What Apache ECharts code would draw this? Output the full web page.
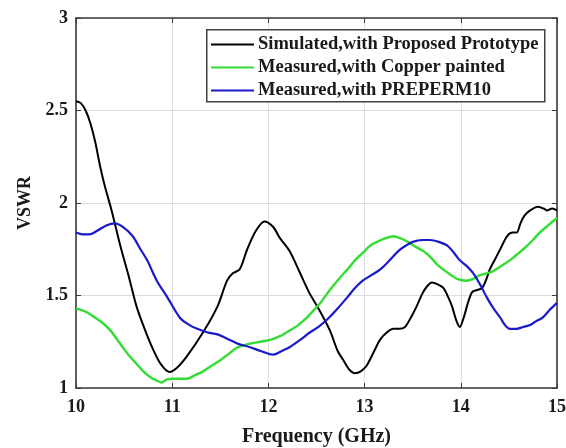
<!DOCTYPE html>
<html>
<head>
<meta charset="utf-8">
<script src="https://cdn.jsdelivr.net/npm/echarts@6/dist/echarts.min.js"></script>
<style>
  html, body { margin: 0; padding: 0; background: #fff; }
  #chart { width: 566px; height: 448px; }
</style>
</head>
<body>
<div id="chart"></div>
<script>
// VSWR vs frequency for the three antenna variants
const seriesNames = [
  'Simulated,with Proposed Prototype',
  'Measured,with Copper painted',
  'Measured,with PREPERM10'
];

const simFreq = [10.00, 10.05, 10.10, 10.15, 10.20, 10.25, 10.30, 10.37, 10.46, 10.55, 10.63, 10.72, 10.80, 10.88, 10.97, 11.05, 11.15, 11.32, 11.47, 11.57, 11.63, 11.70, 11.78, 11.87, 11.96, 12.05, 12.12, 12.22, 12.33, 12.43, 12.52, 12.64, 12.72, 12.78, 12.84, 12.90, 12.96, 13.02, 13.10, 13.16, 13.23, 13.30, 13.36, 13.42, 13.48, 13.54, 13.60, 13.65, 13.70, 13.76, 13.82, 13.87, 13.91, 13.95, 13.99, 14.03, 14.08, 14.12, 14.17, 14.22, 14.26, 14.30, 14.36, 14.41, 14.48, 14.54, 14.58, 14.62, 14.66, 14.72, 14.80, 14.86, 14.90, 14.95, 15.00];
const simVswr = [2.55, 2.54, 2.50, 2.43, 2.33, 2.20, 2.09, 1.96, 1.77, 1.60, 1.44, 1.31, 1.21, 1.13, 1.087, 1.11, 1.17, 1.30, 1.44, 1.58, 1.62, 1.64, 1.75, 1.85, 1.90, 1.87, 1.81, 1.74, 1.62, 1.51, 1.43, 1.31, 1.20, 1.15, 1.10, 1.08, 1.09, 1.12, 1.20, 1.26, 1.30, 1.32, 1.32, 1.33, 1.38, 1.44, 1.51, 1.55, 1.57, 1.56, 1.54, 1.49, 1.44, 1.37, 1.33, 1.38, 1.47, 1.52, 1.53, 1.54, 1.58, 1.64, 1.70, 1.75, 1.82, 1.84, 1.84, 1.89, 1.93, 1.96, 1.98, 1.97, 1.96, 1.97, 1.96];

const copperFreq = [10.00, 10.11, 10.20, 10.28, 10.36, 10.43, 10.50, 10.56, 10.63, 10.70, 10.77, 10.84, 10.89, 10.94, 11.00, 11.08, 11.15, 11.24, 11.32, 11.41, 11.50, 11.60, 11.68, 11.81, 11.92, 12.02, 12.12, 12.22, 12.31, 12.40, 12.47, 12.54, 12.61, 12.67, 12.75, 12.82, 12.90, 12.98, 13.06, 13.13, 13.22, 13.30, 13.37, 13.45, 13.54, 13.61, 13.68, 13.75, 13.82, 13.90, 13.96, 14.06, 14.13, 14.20, 14.27, 14.33, 14.42, 14.51, 14.58, 14.65, 14.75, 14.82, 14.91, 15.00];
const copperVswr = [1.43, 1.41, 1.38, 1.35, 1.31, 1.26, 1.21, 1.17, 1.13, 1.09, 1.06, 1.04, 1.03, 1.045, 1.05, 1.05, 1.05, 1.07, 1.09, 1.12, 1.15, 1.19, 1.22, 1.24, 1.25, 1.26, 1.28, 1.31, 1.34, 1.38, 1.42, 1.46, 1.51, 1.55, 1.60, 1.64, 1.69, 1.73, 1.77, 1.79, 1.81, 1.82, 1.81, 1.79, 1.76, 1.74, 1.71, 1.67, 1.64, 1.61, 1.59, 1.58, 1.59, 1.61, 1.62, 1.63, 1.66, 1.69, 1.72, 1.75, 1.80, 1.84, 1.88, 1.92];

const prepermFreq = [10.00, 10.07, 10.14, 10.22, 10.32, 10.40, 10.49, 10.59, 10.67, 10.74, 10.84, 10.95, 11.08, 11.18, 11.26, 11.37, 11.47, 11.60, 11.68, 11.81, 11.92, 12.05, 12.14, 12.22, 12.33, 12.43, 12.52, 12.61, 12.72, 12.82, 12.90, 12.98, 13.07, 13.16, 13.26, 13.35, 13.43, 13.50, 13.60, 13.68, 13.77, 13.86, 13.93, 13.99, 14.06, 14.13, 14.20, 14.27, 14.34, 14.41, 14.46, 14.51, 14.58, 14.65, 14.72, 14.78, 14.85, 14.92, 15.00];
const prepermVswr = [1.84, 1.83, 1.83, 1.85, 1.88, 1.89, 1.87, 1.82, 1.75, 1.69, 1.58, 1.49, 1.38, 1.34, 1.32, 1.30, 1.29, 1.26, 1.24, 1.22, 1.20, 1.18, 1.20, 1.22, 1.26, 1.30, 1.33, 1.37, 1.43, 1.49, 1.54, 1.58, 1.61, 1.64, 1.69, 1.74, 1.77, 1.79, 1.80, 1.80, 1.79, 1.77, 1.73, 1.69, 1.66, 1.62, 1.56, 1.49, 1.43, 1.38, 1.34, 1.32, 1.32, 1.33, 1.34, 1.36, 1.38, 1.42, 1.46];

const xTicks = { min: 10, max: 15, step: 1 };
const yTicks = { min: 1, max: 3, step: 0.5 };

const zip = (xs, ys) => xs.map((x, i) => [x, ys[i]]);

const FONT = '"Liberation Serif", "Times New Roman", serif';
const AXIS_COLOR = '#3a3a3a';
const TEXT_COLOR = '#1a1a1a';

const chart = echarts.init(document.getElementById('chart'), null, { renderer: 'canvas' });

const baseX = {
  type: 'value', min: xTicks.min, max: xTicks.max, interval: xTicks.step,
  axisLine: { show: true, onZero: false, lineStyle: { color: AXIS_COLOR, width: 1.6 } },
  axisTick: { show: true, inside: true, length: 5, lineStyle: { color: AXIS_COLOR, width: 1 } },
  splitLine: { show: false }
};
const baseY = {
  type: 'value', min: yTicks.min, max: yTicks.max, interval: yTicks.step,
  axisLine: { show: true, onZero: false, lineStyle: { color: AXIS_COLOR, width: 1.6 } },
  axisTick: { show: true, inside: true, length: 5, lineStyle: { color: AXIS_COLOR, width: 1 } },
  splitLine: { show: false }
};

chart.setOption({
  animation: false,
  backgroundColor: '#ffffff',
  grid: { left: 76, right: 9, top: 18, bottom: 60, containLabel: false, outerBoundsMode: 'none' },
  xAxis: [
    Object.assign({}, baseX, {
      position: 'bottom',
      name: 'Frequency (GHz)', nameLocation: 'middle', nameGap: 39,
      nameTextStyle: { fontFamily: FONT, fontWeight: 'bold', fontSize: 20, color: TEXT_COLOR },
      axisLabel: { show: true, margin: 10, fontFamily: FONT, fontWeight: 'bold', fontSize: 18, color: TEXT_COLOR },
      splitLine: { show: true, lineStyle: { color: '#dedede', width: 1 } }
    }),
    Object.assign({}, baseX, { position: 'top', axisLabel: { show: false } })
  ],
  yAxis: [
    Object.assign({}, baseY, {
      position: 'left',
      name: 'VSWR', nameLocation: 'middle', nameGap: 40, nameRotate: 90,
      nameTextStyle: { fontFamily: FONT, fontWeight: 'bold', fontSize: 18, color: TEXT_COLOR },
      axisLabel: { show: true, margin: 8, fontFamily: FONT, fontWeight: 'bold', fontSize: 18, color: TEXT_COLOR },
      splitLine: { show: true, lineStyle: { color: '#dedede', width: 1 } }
    }),
    Object.assign({}, baseY, { position: 'right', axisLabel: { show: false } })
  ],
  legend: {
    orient: 'vertical',
    left: 206, top: 29,
    padding: [6, 4, 4, 4],
    itemWidth: 43, itemHeight: 17, itemGap: 4,
    z: 20,
    data: seriesNames,
    itemStyle: { opacity: 0, borderWidth: 0 },
    textStyle: { fontFamily: FONT, fontWeight: 'bold', fontSize: 18.5, lineHeight: 17, color: TEXT_COLOR, padding: [0, 0, 0, -1] },
    selectedMode: false
  },
  graphic: [{
    type: 'rect', left: 206, top: 29, z: 15,
    shape: { width: 338, height: 72 },
    style: { fill: '#ffffff', stroke: '#404040', lineWidth: 1.5 }
  }],
  series: [
    { name: seriesNames[0], type: 'line', data: zip(simFreq, simVswr), smooth: 0.3, symbol: 'none',
      lineStyle: { color: '#000000', width: 2 }, itemStyle: { color: '#000000' } },
    { name: seriesNames[1], type: 'line', data: zip(copperFreq, copperVswr), smooth: 0.3, symbol: 'none',
      lineStyle: { color: '#33dd33', width: 2.4 }, itemStyle: { color: '#33dd33' } },
    { name: seriesNames[2], type: 'line', data: zip(prepermFreq, prepermVswr), smooth: 0.3, symbol: 'none',
      lineStyle: { color: '#1a1acc', width: 2.2 }, itemStyle: { color: '#1a1acc' } }
  ]
});
</script>
</body>
</html>
